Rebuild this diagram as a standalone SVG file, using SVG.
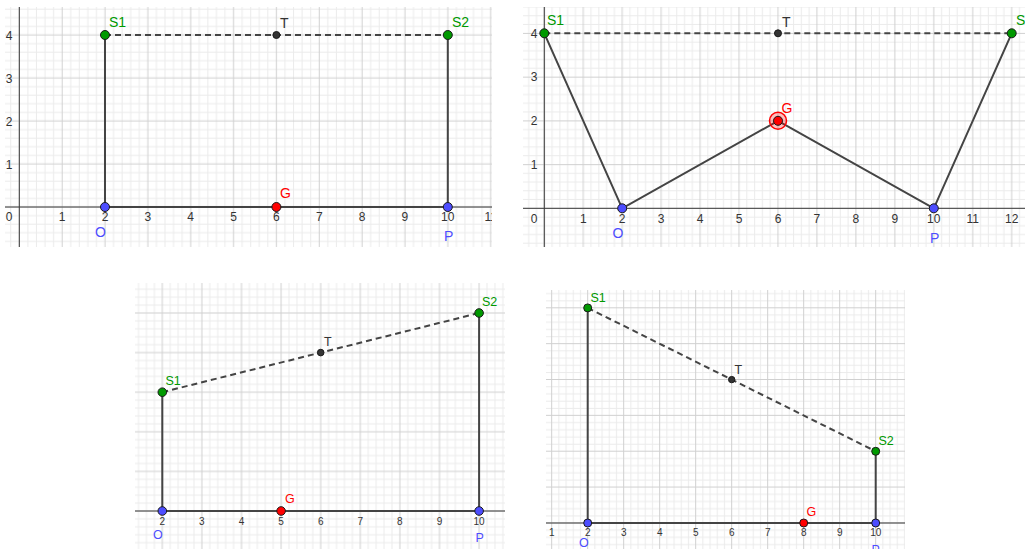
<svg xmlns="http://www.w3.org/2000/svg" width="1025" height="549" viewBox="0 0 1025 549">
<style>
.mn{stroke:#ebebeb;stroke-width:1;fill:none}
.mj{stroke:#d0d0d0;stroke-width:1;fill:none}
.ax{stroke:#3a3a3a;stroke-width:1;fill:none}
.seg{stroke:#444;stroke-width:2;fill:none;stroke-linecap:round}
.dash{stroke:#444;stroke-width:2;fill:none;stroke-dasharray:6 4}
.tk{font-family:"Liberation Sans",Arial,sans-serif;font-size:12px;fill:#333;text-anchor:middle}
.tks{font-family:"Liberation Sans",Arial,sans-serif;font-size:10px;fill:#333;text-anchor:middle}
.lb{font-family:"Liberation Sans",Arial,sans-serif;font-size:14px}
.lbs{font-family:"Liberation Sans",Arial,sans-serif;font-size:12.5px}
.g{fill:#009900}
.b{fill:#4d4dff}
.r{fill:#ff0000}
.k{fill:#333}
.pg{fill:#009900;stroke:#1a1a1a;stroke-width:1}
.pb{fill:#4d4dff;stroke:#1a1a1a;stroke-width:1}
.pr{fill:#ff0000;stroke:#1a1a1a;stroke-width:1}
.pt{fill:#333;stroke:#1a1a1a;stroke-width:1}
</style>
<defs>
<pattern id="g1" patternUnits="userSpaceOnUse" x="15.015" y="202.7" width="42.85" height="43">
<path class="mn" d="M12.855 0V43M21.425 0V43M29.995 0V43M38.565 0V43M0 12.9H42.85M0 21.5H42.85M0 30.1H42.85M0 38.7H42.85"/>
<path class="mj" d="M4.285 0V43M0 4.3H42.85"/>
</pattern>
<pattern id="g2" patternUnits="userSpaceOnUse" x="540.405" y="203.925" width="38.95" height="43.75">
<path class="mn" d="M11.685 0V43.75M19.475 0V43.75M27.265 0V43.75M35.055 0V43.75M0 13.125H38.95M0 21.875H38.95M0 30.625H38.95M0 39.375H38.95"/>
<path class="mj" d="M3.895 0V43.75M0 4.375H38.95"/>
</pattern>
<pattern id="g3" patternUnits="userSpaceOnUse" x="79.14" y="507.04" width="39.6" height="39.6">
<path class="mn" d="M11.88 0V39.6M19.8 0V39.6M27.72 0V39.6M35.64 0V39.6M0 11.88H39.6M0 19.8H39.6M0 27.72H39.6M0 35.64H39.6"/>
<path class="mj" d="M3.96 0V39.6M0 3.96H39.6"/>
</pattern>
<pattern id="g4" patternUnits="userSpaceOnUse" x="512.1" y="519.415" width="36" height="35.85">
<path class="mn" d="M10.8 0V35.85M18 0V35.85M25.2 0V35.85M32.4 0V35.85M0 10.755H36M0 17.925H36M0 25.095H36M0 32.265H36"/>
<path class="mj" d="M3.6 0V35.85M0 3.585H36"/>
</pattern>
<clipPath id="c1"><rect x="5" y="7" width="487" height="240"/></clipPath>
<clipPath id="c2"><rect x="523" y="7" width="502" height="240"/></clipPath>
<clipPath id="c3"><rect x="135" y="283" width="370" height="266"/></clipPath>
<clipPath id="c4"><rect x="546" y="290" width="359" height="259"/></clipPath>
</defs>
<rect width="1025" height="549" fill="#fff"/>

<!-- Panel 1 -->
<g id="panel1" clip-path="url(#c1)">
<rect x="5" y="7" width="487" height="240" fill="url(#g1)"/>
<path class="ax" d="M5 207H492M19.3 7V247"/>
<g class="tk">
<text x="9" y="221">0</text><text x="62.15" y="221">1</text><text x="105" y="221">2</text><text x="147.85" y="221">3</text><text x="190.7" y="221">4</text><text x="233.55" y="221">5</text><text x="276.4" y="221">6</text><text x="319.25" y="221">7</text><text x="362.1" y="221">8</text><text x="404.95" y="221">9</text><text x="447.8" y="221">10</text><text x="490.65" y="221">11</text>
<text x="9" y="168.5">1</text><text x="9" y="125.5">2</text><text x="9" y="82.5">3</text><text x="9" y="39.5">4</text>
</g>
<g id="p1-connectors">
<path class="seg" d="M105 35V207H447.8V35"/>
<path class="dash" d="M105 35H447.8"/>
</g>
<g id="p1-S1"><circle class="pg" cx="105" cy="35" r="4.5"/><text class="lb g" x="109" y="27">S1</text></g>
<g id="p1-T"><circle class="pt" cx="276.4" cy="35" r="3.5"/><text class="lb k" x="280" y="28">T</text></g>
<g id="p1-S2"><circle class="pg" cx="447.8" cy="35" r="4.5"/><text class="lb g" x="452" y="27">S2</text></g>
<g id="p1-O"><circle class="pb" cx="105" cy="207" r="4.5"/><text class="lb b" x="95" y="237">O</text></g>
<g id="p1-G"><circle class="pr" cx="276.4" cy="207" r="4.5"/><text class="lb r" x="280" y="198">G</text></g>
<g id="p1-P"><circle class="pb" cx="447.8" cy="207" r="4.5"/><text class="lb b" x="444" y="241">P</text></g>
</g>

<!-- Panel 2 -->
<g id="panel2" clip-path="url(#c2)">
<rect x="523" y="7" width="502" height="240" fill="url(#g2)"/>
<path class="ax" d="M523 208.3H1025M544.3 7V247"/>
<g class="tk">
<text x="534" y="223">0</text><text x="583.25" y="223">1</text><text x="622.2" y="223">2</text><text x="661.15" y="223">3</text><text x="700.1" y="223">4</text><text x="739.05" y="223">5</text><text x="778" y="223">6</text><text x="816.95" y="223">7</text><text x="855.9" y="223">8</text><text x="894.85" y="223">9</text><text x="933.8" y="223">10</text><text x="972.75" y="223">11</text><text x="1011.7" y="223">12</text>
<text x="534" y="168.8">1</text><text x="534" y="125">2</text><text x="534" y="81.3">3</text><text x="534" y="37.5">4</text>
</g>
<g id="p2-connectors">
<path class="seg" d="M544.3 33.3L622.2 208.3L778 120.8L933.8 208.3L1011.7 33.3"/>
<path class="dash" d="M544.3 33.3H1011.7"/>
</g>
<g id="p2-S1"><circle class="pg" cx="544.3" cy="33.3" r="4.5"/><text class="lb g" x="547" y="25">S1</text></g>
<g id="p2-T"><circle class="pt" cx="778" cy="33.3" r="3.5"/><text class="lb k" x="782" y="27">T</text></g>
<g id="p2-S2"><circle class="pg" cx="1011.7" cy="33.3" r="4.5"/><text class="lb g" x="1016" y="25">S2</text></g>
<g id="p2-O"><circle class="pb" cx="622.2" cy="208.3" r="4.5"/><text class="lb b" x="612.5" y="238">O</text></g>
<g id="p2-G"><circle cx="778" cy="120.8" r="8.5" fill="#ff0000" fill-opacity="0.25" stroke="#ff0000" stroke-width="1.5"/><circle class="pr" cx="778" cy="120.8" r="4.5"/><text class="lb r" x="781.5" y="112.5">G</text></g>
<g id="p2-P"><circle class="pb" cx="933.8" cy="208.3" r="4.5"/><text class="lb b" x="930" y="243">P</text></g>
</g>

<!-- Panel 3 -->
<g id="panel3" clip-path="url(#c3)">
<rect x="135" y="283" width="370" height="266" fill="url(#g3)"/>
<path class="ax" d="M135 511H505"/>
<g class="tks">
<text x="162.3" y="524.5">2</text><text x="201.9" y="524.5">3</text><text x="241.5" y="524.5">4</text><text x="281.1" y="524.5">5</text><text x="320.7" y="524.5">6</text><text x="360.3" y="524.5">7</text><text x="399.9" y="524.5">8</text><text x="439.5" y="524.5">9</text><text x="479.1" y="524.5">10</text>
</g>
<g id="p3-connectors">
<path class="seg" d="M162.3 392.2V511H479.1V313"/>
<path class="dash" d="M162.3 392.2L479.1 313"/>
</g>
<g id="p3-S1"><circle class="pg" cx="162.3" cy="392.2" r="4.3"/><text class="lbs g" x="165.5" y="385">S1</text></g>
<g id="p3-T"><circle class="pt" cx="320.7" cy="352.6" r="3.3"/><text class="lbs k" x="324" y="346">T</text></g>
<g id="p3-S2"><circle class="pg" cx="479.1" cy="313" r="4.3"/><text class="lbs g" x="482" y="306">S2</text></g>
<g id="p3-O"><circle class="pb" cx="162.3" cy="511" r="4.3"/><text class="lbs b" x="153" y="538.5">O</text></g>
<g id="p3-G"><circle class="pr" cx="281.1" cy="511" r="4.3"/><text class="lbs r" x="285" y="503">G</text></g>
<g id="p3-P"><circle class="pb" cx="479.1" cy="511" r="4.3"/><text class="lbs b" x="475.5" y="542">P</text></g>
</g>

<!-- Panel 4 -->
<g id="panel4" clip-path="url(#c4)">
<rect x="546" y="290" width="359" height="259" fill="url(#g4)"/>
<path class="ax" d="M546 523H905"/>
<g class="tks">
<text x="551.7" y="535.5">1</text><text x="587.7" y="535.5">2</text><text x="623.7" y="535.5">3</text><text x="659.7" y="535.5">4</text><text x="695.7" y="535.5">5</text><text x="731.7" y="535.5">6</text><text x="767.7" y="535.5">7</text><text x="803.7" y="535.5">8</text><text x="839.7" y="535.5">9</text><text x="875.7" y="535.5">10</text>
</g>
<g id="p4-connectors">
<path class="seg" d="M587.7 307.9V523H875.7V451.3"/>
<path class="dash" d="M587.7 307.9L875.7 451.3"/>
</g>
<g id="p4-S1"><circle class="pg" cx="587.7" cy="307.9" r="4"/><text class="lbs g" x="590.5" y="301.5">S1</text></g>
<g id="p4-T"><circle class="pt" cx="731.7" cy="379.6" r="3.2"/><text class="lbs k" x="734.5" y="374">T</text></g>
<g id="p4-S2"><circle class="pg" cx="875.7" cy="451.3" r="4"/><text class="lbs g" x="878.5" y="444.5">S2</text></g>
<g id="p4-O"><circle class="pb" cx="587.7" cy="523" r="4"/><text class="lbs b" x="579" y="547">O</text></g>
<g id="p4-G"><circle class="pr" cx="803.7" cy="523" r="4"/><text class="lbs r" x="806.5" y="516">G</text></g>
<g id="p4-P"><circle class="pb" cx="875.7" cy="523" r="4"/><text class="lbs b" x="871.5" y="554">P</text></g>
</g>
</svg>
